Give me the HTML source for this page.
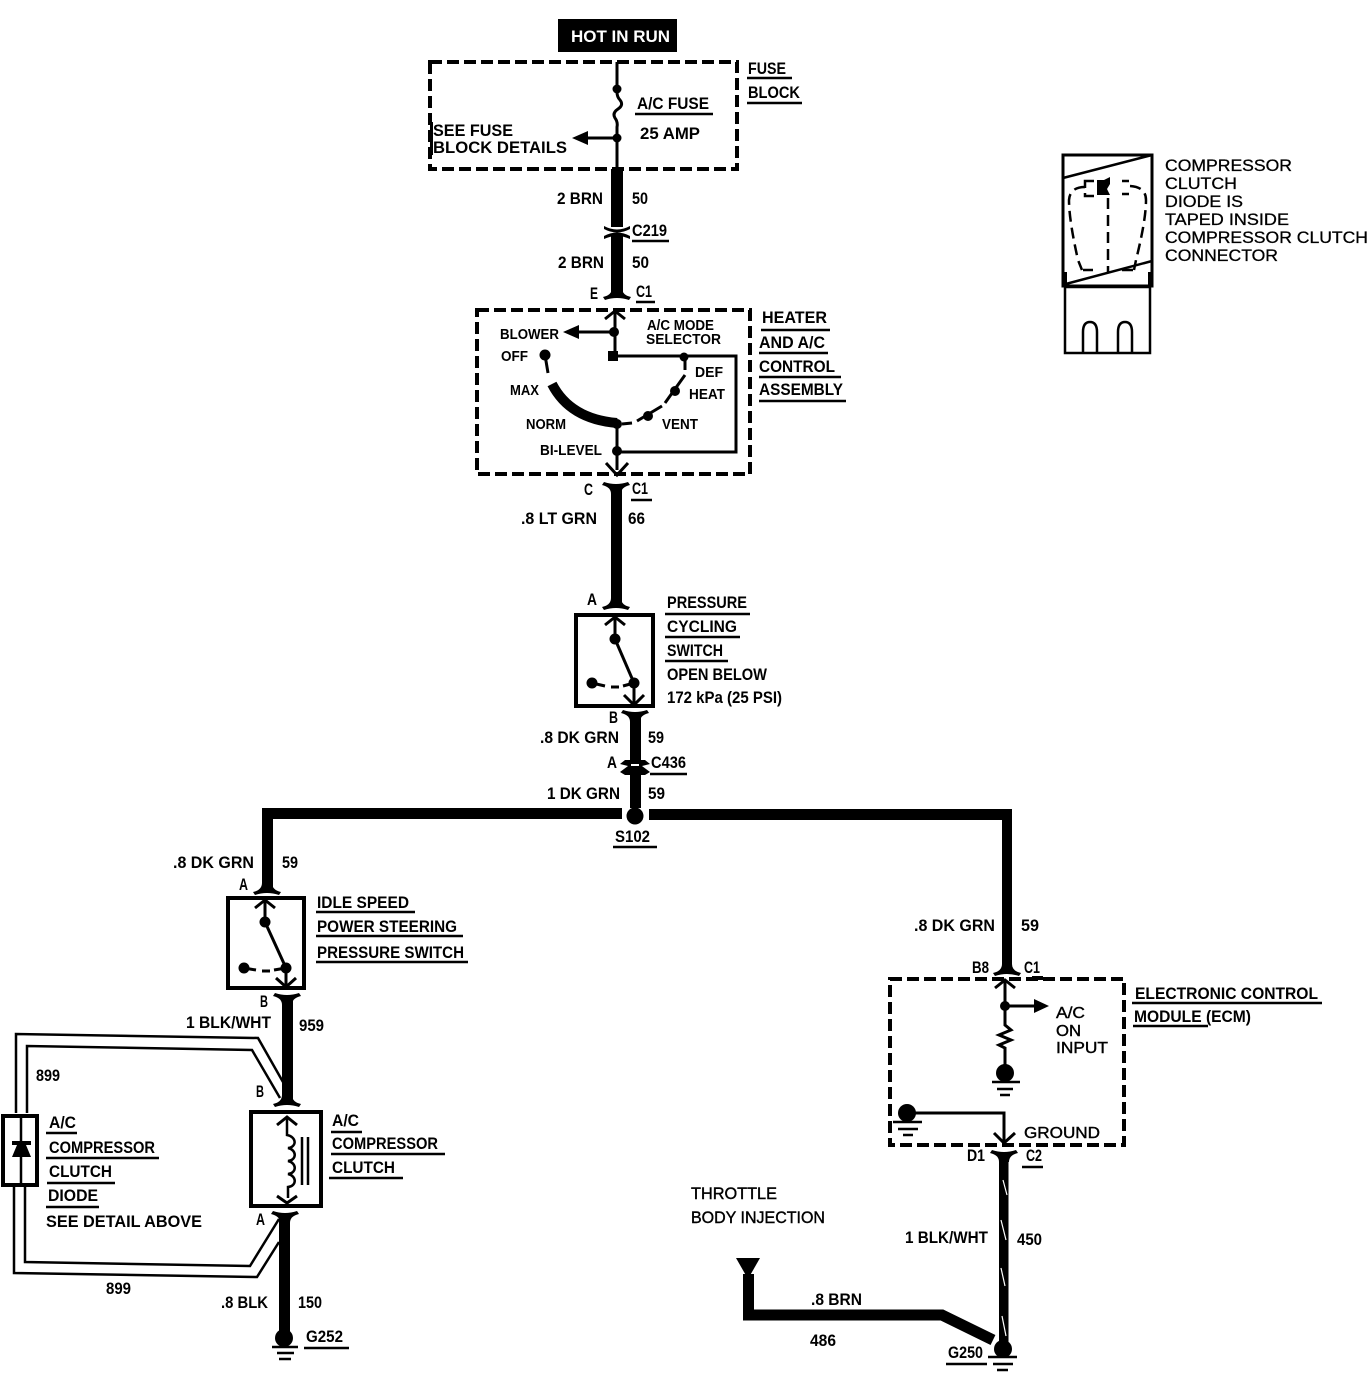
<!DOCTYPE html>
<html><head><meta charset="utf-8"><style>
html,body{margin:0;padding:0;background:#fff}
svg{display:block}
text{font-family:"Liberation Sans",sans-serif;font-weight:700;font-size:16.5px;fill:#000}
.s{font-size:14.5px}
.r{font-weight:400;font-size:17px;stroke:#000;stroke-width:.3}
.w{fill:none;stroke:#000;stroke-width:3}
.t{fill:none;stroke:#000;stroke-width:2.5}
.u{fill:none;stroke:#000;stroke-width:2.5}
.d{fill:none;stroke:#000;stroke-width:4;stroke-dasharray:12 5}
.b{fill:#fff;stroke:#000;stroke-width:4}
</style></head><body>
<svg xmlns="http://www.w3.org/2000/svg" width="1368" height="1376" viewBox="0 0 1368 1376">
<defs>
<path id="fd" d="M-5,-8Q-5,-1-14,1L-12,4Q0,0 12,4L14,1Q5,-1 5,-8Z"/>
<path id="au" d="M-10,9L0,1L10,9" fill="none" stroke="#000" stroke-width="3"/>
</defs>
<rect width="1368" height="1376" fill="#fff"/>

<!-- Hot in run / fuse block -->
<rect x="558" y="19" width="119" height="33" fill="#000"/>
<text x="571" y="42" textLength="99" lengthAdjust="spacingAndGlyphs" style="fill:#fff">HOT IN RUN</text>
<rect class="d" x="430" y="62" width="307" height="107"/>
<path class="w" d="M617,62V92Q617,97 620,100Q624,105 618,109Q612,113 615,118Q618,122 617,127V169"/>
<circle cx="617" cy="89" r="4.5"/><circle cx="617" cy="138" r="4.5"/>
<path class="w" d="M617,138H585"/><path d="M572,138L588,131V145Z"/>
<text x="748" y="74" textLength="38" lengthAdjust="spacingAndGlyphs">FUSE</text><path class="u" d="M747,78H792"/>
<text x="748" y="98" textLength="52" lengthAdjust="spacingAndGlyphs">BLOCK</text><path class="u" d="M747,103H802"/>
<text x="637" y="109" textLength="72" lengthAdjust="spacingAndGlyphs">A/C FUSE</text><path class="u" d="M635,114H713"/>
<text x="640" y="139" textLength="60" lengthAdjust="spacingAndGlyphs">25 AMP</text>
<text x="433" y="136" textLength="80" lengthAdjust="spacingAndGlyphs">SEE FUSE</text>
<text x="433" y="153" textLength="134" lengthAdjust="spacingAndGlyphs">BLOCK DETAILS</text>
<path d="M430,122h3v33h-3z"/>

<!-- wire 50 -->
<rect x="611" y="169" width="12" height="58"/>
<path d="M604,226Q617,233 630,226L630,229Q617,236 604,229Z"/>
<path d="M604,236Q617,229 630,236L630,239Q617,233 604,239Z"/>
<rect x="611" y="236" width="12" height="60"/>
<use href="#fd" x="617" y="296"/>
<text x="557" y="204" textLength="46" lengthAdjust="spacingAndGlyphs">2 BRN</text>
<text x="632" y="204" textLength="16" lengthAdjust="spacingAndGlyphs">50</text>
<text x="632" y="236" textLength="35" lengthAdjust="spacingAndGlyphs">C219</text><path class="u" d="M632,241H669"/>
<text x="558" y="268" textLength="46" lengthAdjust="spacingAndGlyphs">2 BRN</text>
<text x="632" y="268" textLength="17" lengthAdjust="spacingAndGlyphs">50</text>
<text x="590" y="299" textLength="8" lengthAdjust="spacingAndGlyphs">E</text>
<text x="636" y="297" textLength="16" lengthAdjust="spacingAndGlyphs">C1</text><path class="u" d="M636,302H655"/>

<!-- heater box -->
<rect class="d" x="477" y="310" width="273" height="164"/>
<use href="#au" x="615" y="310"/>
<path class="w" d="M615,311V356"/>
<circle cx="614" cy="332" r="5"/><path class="w" d="M614,332H575"/><path d="M563,332L579,325V339Z"/>
<rect x="608" y="351" width="10" height="10"/>
<circle cx="684" cy="357" r="4.5"/>
<path class="w" d="M613,356H736V452H617"/>
<path class="w" d="M617,422V470"/>
<path d="M606,463L617,475L628,463" fill="none" stroke="#000" stroke-width="3"/>
<circle cx="617" cy="451" r="5"/>
<circle cx="545" cy="355" r="5.5"/><path class="w" d="M545,355L548,373"/>
<path d="M552,384Q570,419 617,423" fill="none" stroke="#000" stroke-width="10"/>
<circle cx="617" cy="424" r="5"/>
<path class="w" d="M622,424L632,423M637,421L662,406M665,403L685,375"/>
<circle cx="648" cy="416" r="5"/><circle cx="675" cy="391" r="5"/>
<path class="w" d="M685,357V370"/>
<text x="647" y="330" class="s" textLength="67" lengthAdjust="spacingAndGlyphs">A/C MODE</text>
<text x="646" y="344" class="s" textLength="75" lengthAdjust="spacingAndGlyphs">SELECTOR</text>
<text x="500" y="339" class="s" textLength="59" lengthAdjust="spacingAndGlyphs">BLOWER</text>
<text x="501" y="361" class="s" textLength="27" lengthAdjust="spacingAndGlyphs">OFF</text>
<text x="510" y="395" class="s" textLength="29" lengthAdjust="spacingAndGlyphs">MAX</text>
<text x="526" y="429" class="s" textLength="40" lengthAdjust="spacingAndGlyphs">NORM</text>
<text x="540" y="455" class="s" textLength="62" lengthAdjust="spacingAndGlyphs">BI-LEVEL</text>
<text x="695" y="377" class="s" textLength="28" lengthAdjust="spacingAndGlyphs">DEF</text>
<text x="689" y="399" class="s" textLength="36" lengthAdjust="spacingAndGlyphs">HEAT</text>
<text x="662" y="429" class="s" textLength="36" lengthAdjust="spacingAndGlyphs">VENT</text>
<text x="762" y="323" textLength="65" lengthAdjust="spacingAndGlyphs">HEATER</text><path class="u" d="M761,330H830"/>
<text x="759" y="348" textLength="66" lengthAdjust="spacingAndGlyphs">AND A/C</text><path class="u" d="M759,353H828"/>
<text x="759" y="372" textLength="76" lengthAdjust="spacingAndGlyphs">CONTROL</text><path class="u" d="M759,377H841"/>
<text x="759" y="395" textLength="84" lengthAdjust="spacingAndGlyphs">ASSEMBLY</text><path class="u" d="M759,401H846"/>

<!-- wire 66 -->
<use href="#fd" x="616" y="486" transform="rotate(180 616 486)"/>
<rect x="611" y="490" width="11" height="112"/>
<use href="#fd" x="616" y="606"/>
<text x="584" y="495" textLength="9" lengthAdjust="spacingAndGlyphs">C</text>
<text x="632" y="494" textLength="16" lengthAdjust="spacingAndGlyphs">C1</text><path class="u" d="M631,500H652"/>
<text x="521" y="524" textLength="76" lengthAdjust="spacingAndGlyphs">.8 LT GRN</text>
<text x="628" y="524" textLength="17" lengthAdjust="spacingAndGlyphs">66</text>
<text x="587" y="605" textLength="10" lengthAdjust="spacingAndGlyphs">A</text>

<!-- pressure cycling switch -->
<rect class="b" x="576" y="615" width="77" height="91"/>
<use href="#au" x="615" y="616"/>
<path class="w" d="M615,618V639"/>
<circle cx="615" cy="639" r="5.5"/>
<path class="w" d="M615,639L634,683"/>
<circle cx="634" cy="683" r="5.5"/>
<circle cx="592" cy="683" r="5.5"/>
<path class="w" d="M592,683L605,686M611,687H619M623,686L634,683V703"/>
<path d="M624,695L634,705L644,695" fill="none" stroke="#000" stroke-width="3"/>
<text x="667" y="608" textLength="80" lengthAdjust="spacingAndGlyphs">PRESSURE</text><path class="u" d="M665,614H750"/>
<text x="667" y="632" textLength="70" lengthAdjust="spacingAndGlyphs">CYCLING</text><path class="u" d="M665,637H740"/>
<text x="667" y="656" textLength="56" lengthAdjust="spacingAndGlyphs">SWITCH</text><path class="u" d="M665,661H728"/>
<text x="667" y="680" textLength="100" lengthAdjust="spacingAndGlyphs">OPEN BELOW</text>
<text x="667" y="703" textLength="115" lengthAdjust="spacingAndGlyphs">172 kPa (25 PSI)</text>

<!-- wire 59 -->
<use href="#fd" x="635" y="714" transform="rotate(180 635 714)"/>
<rect x="630" y="718" width="11" height="90"/>
<path d="M625,760H645L650,764L642,766L650,772L645,775H625L620,772L628,766L620,764Z"/>
<rect x="631" y="764" width="8" height="2" fill="#fff"/>
<text x="609" y="723" textLength="9" lengthAdjust="spacingAndGlyphs">B</text>
<text x="540" y="743" textLength="79" lengthAdjust="spacingAndGlyphs">.8 DK GRN</text>
<text x="648" y="743" textLength="16" lengthAdjust="spacingAndGlyphs">59</text>
<text x="607" y="768" textLength="10" lengthAdjust="spacingAndGlyphs">A</text>
<text x="651" y="768" textLength="35" lengthAdjust="spacingAndGlyphs">C436</text><path class="u" d="M650,774H687"/>
<text x="547" y="799" textLength="73" lengthAdjust="spacingAndGlyphs">1 DK GRN</text>
<text x="648" y="799" textLength="17" lengthAdjust="spacingAndGlyphs">59</text>
<circle cx="635" cy="816" r="8.5"/>
<path d="M262,808H622V819H273V885H262Z"/>
<path d="M649,809H1012V970H1002V820H649Z"/>
<text x="615" y="842" textLength="35" lengthAdjust="spacingAndGlyphs">S102</text><path class="u" d="M613,847H657"/>

<!-- left branch -->
<text x="173" y="868" textLength="81" lengthAdjust="spacingAndGlyphs">.8 DK GRN</text>
<text x="282" y="868" textLength="16" lengthAdjust="spacingAndGlyphs">59</text>
<text x="239" y="890" textLength="9" lengthAdjust="spacingAndGlyphs">A</text>
<rect x="262" y="880" width="11" height="10"/>
<use href="#fd" x="267" y="891"/>
<rect class="b" x="228" y="898" width="76" height="90"/>
<use href="#au" x="265" y="899"/>
<path class="w" d="M265,901V922L286,968V985"/>
<circle cx="265" cy="922" r="5.5"/><circle cx="286" cy="968" r="5.5"/><circle cx="244" cy="968" r="5.5"/>
<path class="w" d="M244,968L256,970M262,971H270M274,970L286,968"/>
<path d="M276,978L286,987L296,978" fill="none" stroke="#000" stroke-width="3"/>
<text x="317" y="908" textLength="92" lengthAdjust="spacingAndGlyphs">IDLE SPEED</text><path class="u" d="M316,912H415"/>
<text x="317" y="932" textLength="140" lengthAdjust="spacingAndGlyphs">POWER STEERING</text><path class="u" d="M316,936H463"/>
<text x="317" y="958" textLength="147" lengthAdjust="spacingAndGlyphs">PRESSURE SWITCH</text><path class="u" d="M316,962H468"/>

<use href="#fd" x="287" y="997" transform="rotate(180 287 997)"/>
<rect x="282" y="1000" width="11" height="100"/>
<use href="#fd" x="287" y="1103"/>
<text x="260" y="1007" textLength="8" lengthAdjust="spacingAndGlyphs">B</text>
<text x="186" y="1028" textLength="85" lengthAdjust="spacingAndGlyphs">1 BLK/WHT</text>
<text x="299" y="1031" textLength="25" lengthAdjust="spacingAndGlyphs">959</text>
<path class="t" d="M16,1113V1034L258,1038L283,1082"/>
<path class="t" d="M27,1113V1046L252,1050L280,1098"/>
<text x="36" y="1081" textLength="24" lengthAdjust="spacingAndGlyphs">899</text>
<text x="256" y="1097" textLength="8" lengthAdjust="spacingAndGlyphs">B</text>

<!-- diode -->
<rect class="b" x="3" y="1116" width="34" height="69"/>
<path class="t" d="M21,1116V1185"/>
<path d="M12,1141H31V1145H26L31,1157H12L17,1145H12Z"/>
<text x="49" y="1128" textLength="27" lengthAdjust="spacingAndGlyphs">A/C</text><path class="u" d="M46,1133H77"/>
<text x="49" y="1153" textLength="106" lengthAdjust="spacingAndGlyphs">COMPRESSOR</text><path class="u" d="M46,1158H159"/>
<text x="49" y="1177" textLength="63" lengthAdjust="spacingAndGlyphs">CLUTCH</text><path class="u" d="M47,1183H115"/>
<text x="48" y="1201" textLength="50" lengthAdjust="spacingAndGlyphs">DIODE</text><path class="u" d="M46,1207H99"/>
<text x="46" y="1227" textLength="156" lengthAdjust="spacingAndGlyphs">SEE DETAIL ABOVE</text>

<!-- clutch -->
<rect class="b" x="251" y="1112" width="70" height="94"/>
<use href="#au" x="287" y="1116"/>
<path class="t" d="M287,1118V1135C297,1137 297,1147 288,1148C297,1150 297,1160 288,1161C297,1163 297,1173 288,1174C297,1176 297,1186 288,1187V1198"/>
<path class="t" d="M302,1137V1185M308,1137V1185"/>
<path d="M277,1196L287,1203L297,1196" fill="none" stroke="#000" stroke-width="3"/>
<text x="332" y="1126" textLength="27" lengthAdjust="spacingAndGlyphs">A/C</text><path class="u" d="M331,1132H362"/>
<text x="332" y="1149" textLength="106" lengthAdjust="spacingAndGlyphs">COMPRESSOR</text><path class="u" d="M331,1154H445"/>
<text x="332" y="1173" textLength="63" lengthAdjust="spacingAndGlyphs">CLUTCH</text><path class="u" d="M329,1178H403"/>
<use href="#fd" x="285" y="1215" transform="rotate(180 285 1215)"/>
<rect x="279" y="1218" width="11" height="118"/>
<text x="256" y="1225" textLength="9" lengthAdjust="spacingAndGlyphs">A</text>
<path class="t" d="M14,1187V1273L257,1277L279,1242"/>
<path class="t" d="M25,1187V1262L250,1266L279,1219"/>
<text x="106" y="1294" textLength="25" lengthAdjust="spacingAndGlyphs">899</text>
<text x="221" y="1308" textLength="47" lengthAdjust="spacingAndGlyphs">.8 BLK</text>
<text x="298" y="1308" textLength="24" lengthAdjust="spacingAndGlyphs">150</text>
<circle cx="284" cy="1338" r="9"/>
<path class="u" d="M272,1347H298M277,1353H294M279,1359H291"/>
<text x="306" y="1342" textLength="37" lengthAdjust="spacingAndGlyphs">G252</text><path class="u" d="M304,1348H349"/>

<!-- ECM -->
<use href="#fd" x="1007" y="972"/>
<rect class="d" x="890" y="979" width="234" height="166"/>
<rect x="1032" y="976" width="11" height="4"/>
<use href="#au" x="1005" y="979"/>
<path class="w" d="M1005,981V1025L1011,1030L999,1035L1011,1040L999,1045L1005,1048V1068"/>
<circle cx="1005" cy="1006" r="5"/>
<path class="w" d="M1005,1006H1035"/><path d="M1049,1006L1034,999V1013Z"/>
<circle cx="1005" cy="1073" r="9"/>
<path class="u" d="M992,1082H1020M997,1089H1013M1000,1095H1010"/>
<circle cx="907" cy="1113" r="9"/>
<path class="u" d="M893,1122H922M898,1129H918M903,1135H913"/>
<path class="w" d="M907,1113H1004V1142"/>
<path d="M994,1133L1004,1143L1015,1133" fill="none" stroke="#000" stroke-width="3"/>
<text x="972" y="973" textLength="17" lengthAdjust="spacingAndGlyphs">B8</text>
<text x="1024" y="973" textLength="16" lengthAdjust="spacingAndGlyphs">C1</text>
<text x="914" y="931" textLength="81" lengthAdjust="spacingAndGlyphs">.8 DK GRN</text>
<text x="1021" y="931" textLength="18" lengthAdjust="spacingAndGlyphs">59</text>
<text x="1056" y="1018" textLength="29" lengthAdjust="spacingAndGlyphs" style="font-weight:400;stroke:#000;stroke-width:.4;font-size:16px">A/C</text>
<text x="1056" y="1036" textLength="25" lengthAdjust="spacingAndGlyphs" style="font-weight:400;stroke:#000;stroke-width:.4;font-size:16px">ON</text>
<text x="1056" y="1053" textLength="52" lengthAdjust="spacingAndGlyphs" style="font-weight:400;stroke:#000;stroke-width:.4;font-size:16px">INPUT</text>
<text x="1135" y="999" textLength="183" lengthAdjust="spacingAndGlyphs">ELECTRONIC CONTROL</text><path class="u" d="M1132,1003H1322"/>
<text x="1134" y="1022" textLength="117" lengthAdjust="spacingAndGlyphs">MODULE (ECM)</text><path class="u" d="M1133,1026H1208"/>
<text x="1024" y="1138" textLength="76" lengthAdjust="spacingAndGlyphs" style="font-weight:400;stroke:#000;stroke-width:.4;font-size:16px">GROUND</text>
<text x="967" y="1161" textLength="18" lengthAdjust="spacingAndGlyphs">D1</text>
<text x="1026" y="1161" textLength="16" lengthAdjust="spacingAndGlyphs">C2</text><path class="u" d="M1022,1167H1043"/>
<use href="#fd" x="1004" y="1154" transform="rotate(180 1004 1154)"/>
<rect x="999" y="1158" width="9.5" height="188"/>
<path d="M1003,1180L1007,1195M1001,1220L1006,1240M1001,1268L1005,1286M1002,1316L1006,1336" fill="none" stroke="#fff" stroke-width="1.2"/>
<text x="905" y="1243" textLength="83" lengthAdjust="spacingAndGlyphs">1 BLK/WHT</text>
<text x="1017" y="1245" textLength="25" lengthAdjust="spacingAndGlyphs">450</text>

<!-- throttle -->
<text x="691" y="1199" textLength="86" lengthAdjust="spacingAndGlyphs" style="font-weight:400;stroke:#000;stroke-width:.4">THROTTLE</text>
<text x="691" y="1223" textLength="134" lengthAdjust="spacingAndGlyphs" style="font-weight:400;stroke:#000;stroke-width:.4">BODY INJECTION</text>
<path d="M736,1258H760L748,1279Z"/>
<path d="M748.5,1274V1315H942L993,1340" fill="none" stroke="#000" stroke-width="11"/>
<text x="811" y="1305" textLength="51" lengthAdjust="spacingAndGlyphs">.8 BRN</text>
<text x="810" y="1346" textLength="26" lengthAdjust="spacingAndGlyphs">486</text>
<circle cx="1003" cy="1349" r="9"/>
<path class="u" d="M988,1357H1017M993,1364H1013M997,1370H1008"/>
<text x="948" y="1358" textLength="35" lengthAdjust="spacingAndGlyphs">G250</text><path class="u" d="M946,1364H987"/>

<!-- connector detail -->
<rect x="1063" y="155" width="89" height="131" fill="#fff" stroke="#000" stroke-width="3"/>
<path class="u" d="M1063,178L1152,155M1062,285L1152,261"/>
<rect x="1065" y="287" width="85" height="66" fill="#fff" stroke="#000" stroke-width="2.5"/>
<path class="u" d="M1083,353V332Q1083,322 1090,322Q1097,322 1097,332V353M1118,353V332Q1118,322 1125,322Q1132,322 1132,332V353"/>
<path d="M1097,180H1104L1110,177V184L1107,189L1110,195H1097Z"/>
<path d="M1085,188V181H1094M1085,193V196H1094M1122,181H1129M1122,194H1129" fill="none" stroke="#000" stroke-width="2.5"/>
<path d="M1108,198V272M1130,186Q1146,187 1146,200Q1146,220 1136,260L1134,270M1085,187Q1070,187 1069,200Q1069,220 1078,260L1082,270M1083,270H1093M1122,270H1134" fill="none" stroke="#000" stroke-width="2.5" stroke-dasharray="11 6"/>
<rect x="1062" y="272" width="5" height="14"/><rect x="1148" y="272" width="5" height="14"/>
<text x="1165" y="171" class="r" textLength="127" lengthAdjust="spacingAndGlyphs">COMPRESSOR</text>
<text x="1165" y="189" class="r" textLength="72" lengthAdjust="spacingAndGlyphs">CLUTCH</text>
<text x="1165" y="207" class="r" textLength="78" lengthAdjust="spacingAndGlyphs">DIODE IS</text>
<text x="1165" y="225" class="r" textLength="124" lengthAdjust="spacingAndGlyphs">TAPED INSIDE</text>
<text x="1165" y="243" class="r" textLength="203" lengthAdjust="spacingAndGlyphs">COMPRESSOR CLUTCH</text>
<text x="1165" y="261" class="r" textLength="113" lengthAdjust="spacingAndGlyphs">CONNECTOR</text>
</svg>
</body></html>
